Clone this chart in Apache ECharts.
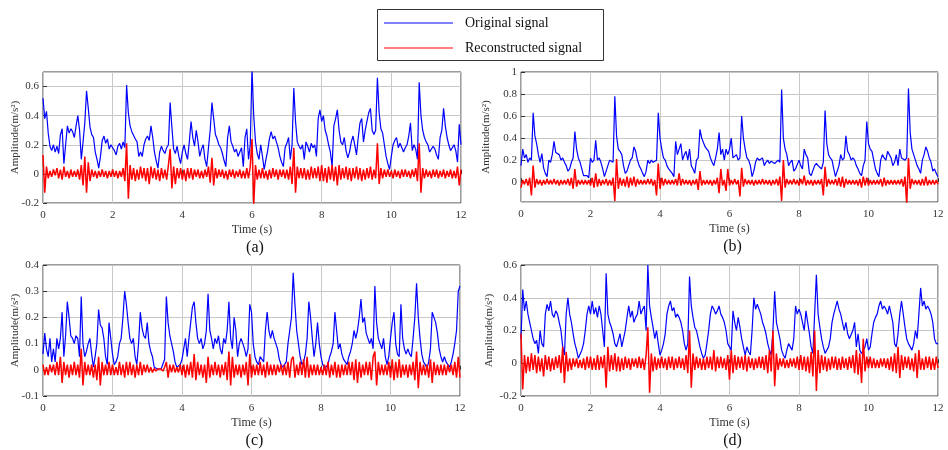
<!DOCTYPE html>
<html>
<head>
<meta charset="utf-8">
<title>Original and reconstructed signals</title>
<script src="https://cdn.jsdelivr.net/npm/echarts@6/dist/echarts.min.js"></script>
<style>
  html, body { margin: 0; padding: 0; background: #fff; }
  #chart { width: 948px; height: 450px; }
</style>
</head>
<body>
<div id="chart"></div>
<script>
// Sampling step of every record below (seconds)
const SAMPLE_STEP = 0.05;
const TIME_TICKS = [0, 2, 4, 6, 8, 10, 12];

// ---- Record (a) ----
const originalA = [
  0.52,0.38,0.43,0.28,0.19,0.16,0.20,0.15,0.19,0.14,0.27,0.31,0.07,0.20,0.33,0.28,0.31,0.29,0.25,0.33,
  0.40,0.30,0.10,0.22,0.35,0.57,0.45,0.32,0.27,0.25,0.15,0.10,0.04,0.12,0.23,0.26,0.21,0.24,0.17,0.20,
  0.18,0.16,0.13,0.19,0.21,0.17,0.22,0.18,0.61,0.42,0.33,0.29,0.30,0.24,0.22,0.12,0.15,0.12,0.20,0.24,
  0.26,0.23,0.33,0.25,0.15,0.09,0.04,0.15,0.19,0.16,0.14,0.18,0.20,0.49,0.32,0.17,0.14,0.19,0.12,0.07,
  0.15,0.20,0.14,0.10,0.22,0.36,0.25,0.19,0.30,0.22,0.12,0.17,0.20,0.10,0.05,0.18,0.30,0.49,0.38,0.27,
  0.24,0.20,0.18,0.14,0.09,0.05,0.25,0.33,0.22,0.19,0.15,0.17,0.12,0.15,0.18,0.05,0.25,0.31,0.10,0.20,
  0.72,0.40,0.22,0.14,0.10,0.20,0.12,0.03,0.10,0.16,0.24,0.29,0.24,0.26,0.22,0.18,0.12,0.08,0.05,0.18,
  0.21,0.25,0.10,0.20,0.59,0.36,0.22,0.19,0.17,0.20,0.10,0.22,0.19,0.15,0.21,0.18,0.20,0.12,0.38,0.44,
  0.36,0.40,0.30,0.26,0.20,0.15,0.05,0.33,0.38,0.44,0.30,0.22,0.20,0.25,0.16,0.11,0.15,0.22,0.26,0.20,
  0.13,0.25,0.35,0.38,0.22,0.30,0.36,0.42,0.45,0.30,0.27,0.30,0.66,0.42,0.31,0.28,0.20,0.12,0.07,0.03,
  0.12,0.20,0.23,0.25,0.18,0.21,0.22,0.15,0.18,0.20,0.26,0.35,0.16,0.20,0.17,0.10,0.63,0.40,0.30,0.25,
  0.22,0.20,0.15,0.14,0.19,0.17,0.13,0.10,0.25,0.30,0.45,0.33,0.25,0.20,0.16,0.15,0.20,0.16,0.08,0.34,
  0.20
];
const reconstructedA = [
  0.13,-0.13,0.05,-0.03,0.02,-0.02,0.03,-0.01,0.04,-0.03,0.03,-0.04,0.05,-0.02,0.02,-0.03,0.03,-0.02,0.02,-0.02,
  0.03,-0.04,0.06,-0.08,0.12,-0.13,0.08,-0.05,0.03,-0.02,0.02,-0.03,0.02,-0.02,0.03,-0.02,0.02,-0.03,0.02,-0.02,
  0.03,-0.02,0.02,-0.03,0.02,-0.02,0.04,-0.05,0.21,-0.17,0.06,-0.04,0.04,-0.05,0.03,-0.04,0.05,-0.03,0.04,-0.05,
  0.04,-0.07,0.05,-0.03,0.04,-0.04,0.03,-0.05,0.04,-0.03,0.03,-0.04,0.06,0.17,-0.10,0.05,-0.07,0.04,-0.03,0.04,
  -0.04,0.03,-0.05,0.04,-0.03,0.04,-0.04,0.03,-0.02,0.03,-0.03,0.02,-0.03,0.03,-0.02,0.05,-0.06,0.11,-0.08,0.04,
  -0.03,0.03,-0.02,0.03,-0.03,0.02,-0.04,0.03,-0.02,0.03,-0.03,0.02,-0.02,0.03,-0.03,0.02,-0.03,0.04,-0.03,0.05,
  0.24,-0.21,0.06,-0.04,0.03,-0.03,0.04,-0.03,0.02,-0.04,0.03,-0.03,0.04,-0.02,0.03,-0.04,0.03,-0.02,0.03,-0.03,
  0.03,-0.04,0.05,-0.07,0.18,-0.13,0.05,-0.03,0.04,-0.03,0.04,-0.04,0.03,-0.04,0.05,-0.03,0.04,-0.03,0.05,-0.05,
  0.06,-0.05,0.04,-0.06,0.05,-0.04,0.06,-0.05,0.05,-0.08,0.06,-0.04,0.04,-0.03,0.05,-0.04,0.04,-0.05,0.04,-0.03,
  0.05,-0.04,0.04,-0.05,0.03,-0.04,0.04,-0.03,0.05,-0.04,0.03,-0.03,0.21,-0.07,0.04,-0.03,0.03,-0.02,0.03,-0.02,
  0.02,-0.03,0.03,-0.02,0.02,-0.03,0.03,-0.02,0.03,-0.02,0.02,-0.03,0.03,-0.02,0.04,-0.05,0.21,-0.13,0.04,-0.03,
  0.03,-0.02,0.02,-0.03,0.03,-0.02,0.03,-0.03,0.02,-0.02,0.03,-0.03,0.02,-0.02,0.03,-0.03,0.02,-0.03,0.05,-0.08,
  0.03
];

// ---- Record (b) ----
const originalB = [
  0.15,0.30,0.22,0.25,0.18,0.22,0.20,0.63,0.42,0.35,0.25,0.18,0.26,0.13,0.08,0.05,0.20,0.18,0.25,0.37,
  0.27,0.26,0.25,0.20,0.22,0.18,0.15,0.10,0.12,0.18,0.22,0.46,0.30,0.22,0.18,0.12,0.06,0.05,0.06,0.04,
  0.22,0.18,0.20,0.38,0.20,0.22,0.18,0.12,0.05,0.10,0.15,0.20,0.20,0.18,0.78,0.42,0.30,0.28,0.25,0.15,
  0.08,0.10,0.10,0.20,0.22,0.32,0.28,0.20,0.15,0.12,0.08,0.05,0.10,0.20,0.17,0.20,0.18,0.18,0.20,0.63,
  0.40,0.30,0.22,0.20,0.15,0.12,0.10,0.08,0.05,0.37,0.25,0.30,0.35,0.20,0.25,0.28,0.20,0.30,0.15,0.12,
  0.08,0.20,0.22,0.48,0.40,0.40,0.32,0.30,0.28,0.22,0.18,0.15,0.22,0.30,0.45,0.25,0.30,0.20,0.30,0.25,
  0.30,0.40,0.22,0.22,0.25,0.20,0.22,0.60,0.40,0.30,0.22,0.20,0.15,0.05,0.10,0.18,0.22,0.20,0.20,0.22,
  0.15,0.18,0.20,0.17,0.19,0.20,0.17,0.18,0.20,0.18,0.84,0.40,0.30,0.25,0.15,0.18,0.20,0.10,0.12,0.12,
  0.20,0.15,0.12,0.30,0.25,0.22,0.08,0.06,0.05,0.15,0.17,0.15,0.15,0.12,0.18,0.65,0.35,0.25,0.22,0.20,
  0.12,0.05,0.10,0.15,0.25,0.20,0.22,0.42,0.28,0.25,0.20,0.22,0.20,0.15,0.12,0.08,0.06,0.15,0.20,0.55,
  0.35,0.30,0.28,0.20,0.12,0.08,0.05,0.20,0.25,0.22,0.20,0.28,0.25,0.22,0.15,0.18,0.25,0.15,0.30,0.22,
  0.22,0.20,0.22,0.85,0.45,0.30,0.25,0.20,0.15,0.12,0.08,0.20,0.25,0.32,0.28,0.22,0.18,0.10,0.12,0.08,
  0.05
];
const reconstructedB = [
  -0.05,0.02,-0.02,0.03,-0.03,0.04,-0.12,0.15,-0.05,0.03,-0.02,0.02,-0.03,0.02,-0.02,0.03,-0.02,0.02,-0.02,0.03,
  -0.02,0.02,-0.03,0.02,-0.02,0.02,-0.02,0.03,-0.03,0.04,-0.06,0.12,-0.04,0.02,-0.02,0.02,-0.02,0.02,-0.02,0.02,
  -0.03,0.04,-0.05,0.08,-0.04,0.03,-0.03,0.02,-0.02,0.03,-0.03,0.02,-0.03,0.04,-0.17,0.21,-0.06,0.04,-0.03,0.03,
  -0.04,0.05,-0.05,0.04,-0.03,0.05,-0.04,0.03,-0.02,0.02,-0.02,0.02,-0.02,0.03,-0.02,0.03,-0.03,0.02,-0.12,0.17,
  -0.06,0.04,-0.03,0.03,-0.02,0.02,-0.02,0.02,-0.02,0.03,-0.03,0.08,-0.03,0.03,-0.02,0.02,-0.02,0.02,-0.03,0.02,
  -0.02,0.03,-0.07,0.10,-0.03,0.02,-0.02,0.02,-0.02,0.02,-0.03,0.02,-0.02,0.04,-0.10,0.12,-0.03,0.02,-0.08,0.12,
  -0.03,0.02,-0.02,0.03,-0.02,0.02,-0.13,0.13,-0.04,0.03,-0.02,0.02,-0.02,0.02,-0.03,0.02,-0.02,0.02,-0.02,0.03,
  -0.02,0.02,-0.02,0.02,-0.03,0.02,-0.02,0.03,-0.03,0.05,-0.17,0.20,-0.05,0.03,-0.02,0.02,-0.02,0.03,-0.02,0.02,
  -0.03,0.03,-0.02,0.06,-0.03,0.02,-0.02,0.02,-0.03,0.02,-0.02,0.02,-0.02,0.03,-0.12,0.14,-0.04,0.03,-0.02,0.02,
  -0.02,0.03,-0.03,0.04,-0.04,0.05,-0.05,0.03,-0.02,0.02,-0.02,0.02,-0.02,0.02,-0.03,0.03,-0.05,0.05,-0.03,0.04,
  -0.03,0.02,-0.02,0.02,-0.02,0.02,-0.02,0.03,-0.04,0.04,-0.03,0.02,-0.02,0.02,-0.02,0.02,-0.02,0.02,-0.02,0.03,
  -0.04,0.05,-0.20,0.22,-0.06,0.03,-0.02,0.02,-0.02,0.02,-0.03,0.03,-0.03,0.05,-0.03,0.02,-0.02,0.02,-0.02,0.02,
  -0.02
];

// ---- Record (c) ----
const originalC = [
  0.06,0.14,0.08,0.05,0.12,0.03,0.08,0.03,0.12,0.08,0.12,0.22,0.05,0.13,0.26,0.20,0.13,0.12,0.10,0.13,
  0.12,0.05,0.28,0.10,0.05,0.07,0.10,0.12,0.06,0.01,0.05,0.10,0.23,0.17,0.16,0.12,0.05,0.02,0.18,0.12,
  0.06,0.02,0.03,0.05,0.10,0.12,0.20,0.30,0.25,0.18,0.12,0.10,0.12,0.05,0.02,0.10,0.22,0.16,0.13,0.12,
  0.18,0.10,0.07,0.05,0.01,0.005,0.003,0.004,0.003,0.01,0.04,0.28,0.18,0.13,0.10,0.07,0.03,0.01,0.005,0.02,
  0.04,0.08,0.12,0.05,0.12,0.18,0.24,0.26,0.18,0.12,0.10,0.12,0.08,0.10,0.15,0.29,0.15,0.12,0.08,0.12,
  0.10,0.13,0.08,0.06,0.12,0.10,0.15,0.26,0.12,0.08,0.20,0.15,0.05,0.10,0.12,0.10,0.08,0.05,0.08,0.25,
  0.22,0.10,0.05,0.03,0.02,0.05,0.04,0.03,0.15,0.22,0.15,0.12,0.15,0.12,0.10,0.08,0.04,0.02,0.01,0.005,
  0.03,0.10,0.15,0.20,0.37,0.25,0.15,0.10,0.05,0.02,0.03,0.06,0.12,0.26,0.20,0.12,0.05,0.10,0.18,0.10,
  0.05,0.02,0.005,0.01,0.02,0.05,0.07,0.10,0.22,0.15,0.08,0.10,0.06,0.04,0.03,0.02,0.05,0.07,0.10,0.15,
  0.12,0.15,0.20,0.27,0.18,0.20,0.14,0.12,0.10,0.12,0.08,0.32,0.18,0.12,0.10,0.08,0.12,0.05,0.02,0.05,
  0.12,0.18,0.22,0.10,0.06,0.05,0.25,0.12,0.08,0.06,0.08,0.06,0.05,0.12,0.20,0.33,0.20,0.12,0.06,0.03,
  0.02,0.005,0.03,0.08,0.22,0.20,0.18,0.14,0.08,0.05,0.03,0.05,0.03,0.02,0.01,0.03,0.06,0.10,0.15,0.30,
  0.32
];
const reconstructedC = [
  0.02,-0.02,0.01,-0.02,0.02,-0.01,0.02,-0.02,0.03,-0.02,0.05,-0.05,0.03,-0.02,0.02,-0.03,0.02,-0.02,0.03,-0.02,
  0.02,-0.03,0.08,-0.06,0.03,-0.02,0.02,-0.02,0.02,-0.03,0.02,-0.04,0.05,-0.06,0.03,-0.02,0.02,-0.02,0.03,-0.02,
  0.02,-0.02,0.01,-0.02,0.03,-0.02,0.02,-0.03,0.03,-0.02,0.03,-0.02,0.02,-0.03,0.02,-0.02,0.03,-0.02,0.02,-0.01,
  0.02,-0.01,0.01,-0.01,0.005,-0.005,0.003,-0.003,0.003,-0.005,0.01,0.03,-0.03,0.02,-0.01,0.02,-0.01,0.01,-0.01,0.02,
  -0.02,0.02,-0.03,0.02,-0.02,0.03,-0.03,0.06,-0.04,0.03,-0.02,0.02,-0.03,0.02,-0.05,0.05,-0.03,0.02,-0.02,0.03,
  -0.02,0.02,-0.03,0.02,-0.02,0.03,-0.04,0.07,-0.06,0.05,-0.03,0.02,-0.02,0.02,-0.03,0.02,-0.02,0.03,-0.06,0.06,
  -0.03,0.02,-0.02,0.02,-0.02,0.03,-0.02,0.02,-0.03,0.03,-0.02,0.02,-0.02,0.02,-0.02,0.02,-0.01,0.02,-0.02,0.02,
  -0.02,0.03,-0.03,0.04,0.05,-0.03,0.02,-0.02,0.03,-0.02,0.04,-0.03,0.05,-0.03,0.02,-0.02,0.02,-0.02,0.02,-0.02,
  0.01,-0.02,0.02,-0.02,0.03,-0.03,0.02,-0.02,0.03,-0.03,0.02,-0.03,0.02,-0.02,0.02,-0.02,0.03,-0.02,0.03,-0.04,
  0.04,-0.05,0.03,-0.03,0.02,-0.02,0.03,-0.02,0.03,-0.04,0.05,0.07,-0.06,0.03,-0.02,0.02,-0.02,0.02,-0.02,0.03,
  -0.03,0.04,-0.04,0.03,-0.03,0.04,-0.03,0.02,-0.02,0.02,-0.03,0.02,-0.02,0.03,-0.04,0.07,-0.07,0.03,-0.02,0.02,
  -0.02,0.02,-0.03,0.04,-0.05,0.03,-0.02,0.02,-0.02,0.02,-0.02,0.02,-0.02,0.02,-0.01,0.02,-0.02,0.03,-0.03,0.05,
  -0.03
];

// ---- Record (d) ----
const originalD = [
  0.15,0.45,0.32,0.38,0.30,0.25,0.20,0.15,0.12,0.14,0.06,0.20,0.12,0.10,0.30,0.36,0.32,0.38,0.30,0.28,
  0.32,0.30,0.25,0.20,0.10,0.05,0.30,0.40,0.30,0.25,0.18,0.12,0.08,0.03,0.02,0.08,0.12,0.20,0.30,0.35,
  0.30,0.38,0.30,0.34,0.28,0.35,0.30,0.20,0.10,0.55,0.30,0.25,0.22,0.18,0.12,0.10,0.14,0.18,0.10,0.15,
  0.20,0.28,0.35,0.28,0.32,0.25,0.28,0.30,0.38,0.30,0.33,0.35,0.20,0.60,0.35,0.28,0.22,0.15,0.20,0.12,
  0.05,0.08,0.12,0.18,0.30,0.35,0.38,0.32,0.34,0.28,0.30,0.28,0.25,0.20,0.12,0.08,0.12,0.53,0.35,0.28,
  0.22,0.20,0.15,0.10,0.06,0.03,0.05,0.12,0.20,0.30,0.35,0.33,0.30,0.32,0.35,0.30,0.28,0.25,0.20,0.12,
  0.10,0.08,0.32,0.25,0.20,0.28,0.22,0.15,0.10,0.05,0.10,0.07,0.05,0.20,0.40,0.33,0.36,0.35,0.30,0.25,
  0.22,0.18,0.12,0.08,0.05,0.20,0.44,0.25,0.20,0.15,0.08,0.05,0.03,0.08,0.12,0.10,0.08,0.15,0.35,0.30,
  0.33,0.30,0.25,0.20,0.32,0.25,0.18,0.10,0.06,0.05,0.54,0.30,0.22,0.15,0.10,0.06,0.05,0.10,0.15,0.25,
  0.30,0.34,0.38,0.33,0.30,0.25,0.20,0.25,0.18,0.15,0.16,0.20,0.25,0.10,0.18,0.08,0.06,0.05,0.10,0.15,
  0.08,0.10,0.18,0.25,0.28,0.30,0.35,0.38,0.33,0.35,0.33,0.30,0.35,0.30,0.25,0.12,0.10,0.18,0.30,0.38,
  0.30,0.22,0.15,0.12,0.10,0.08,0.12,0.20,0.15,0.30,0.46,0.35,0.38,0.33,0.35,0.33,0.30,0.25,0.15,0.12,
  0.12
];
const reconstructedD = [
  0.18,-0.16,0.05,-0.06,0.04,-0.05,0.06,-0.04,0.05,-0.06,0.04,-0.05,0.03,-0.08,0.05,-0.04,0.04,-0.05,0.03,-0.04,
  0.04,-0.03,0.05,-0.06,0.10,-0.12,0.07,-0.05,0.03,-0.04,0.03,-0.02,0.03,-0.03,0.02,-0.03,0.03,-0.04,0.04,-0.03,
  0.04,-0.04,0.03,-0.04,0.05,-0.04,0.04,-0.03,0.05,-0.15,0.10,-0.05,0.05,-0.04,0.06,-0.05,0.04,-0.05,0.03,-0.04,
  0.04,-0.03,0.03,-0.04,0.03,-0.02,0.03,-0.03,0.04,-0.03,0.03,-0.04,0.05,0.22,-0.18,0.06,-0.05,0.04,-0.04,0.03,
  -0.03,0.04,-0.03,0.03,-0.04,0.04,-0.03,0.04,-0.04,0.03,-0.03,0.04,-0.03,0.03,-0.04,0.05,-0.06,0.20,-0.15,0.06,
  -0.04,0.04,-0.03,0.03,-0.04,0.03,-0.04,0.04,-0.03,0.04,-0.04,0.08,-0.05,0.04,-0.03,0.04,-0.03,0.03,-0.04,0.05,
  -0.10,0.08,-0.06,0.05,-0.04,0.04,-0.03,0.04,-0.04,0.05,-0.05,0.04,-0.03,0.03,-0.04,0.03,-0.03,0.04,-0.03,0.04,
  -0.04,0.05,-0.06,0.08,-0.05,0.20,-0.14,0.06,-0.04,0.03,-0.02,0.03,-0.03,0.02,-0.03,0.03,-0.02,0.03,-0.03,0.04,
  -0.04,0.05,-0.04,0.04,-0.05,0.04,-0.06,0.07,-0.08,0.20,-0.17,0.08,-0.06,0.05,-0.04,0.04,-0.05,0.03,-0.04,0.04,
  -0.03,0.04,-0.04,0.03,-0.04,0.04,-0.03,0.03,-0.04,0.04,-0.03,0.05,-0.06,0.08,-0.07,0.06,-0.12,0.15,-0.05,0.04,
  -0.03,0.04,-0.03,0.03,-0.03,0.02,-0.03,0.03,-0.02,0.03,-0.03,0.03,-0.04,0.04,-0.05,0.06,-0.06,0.10,-0.09,0.05,
  -0.04,0.04,-0.03,0.04,-0.04,0.03,-0.05,0.06,-0.09,0.08,-0.04,0.03,-0.04,0.04,-0.03,0.04,-0.04,0.03,-0.04,0.04,
  -0.03
];

const LEGEND_NAMES = ['Original signal', 'Reconstructed signal'];
const SERIES_COLORS = ['#0000ff', '#ff0000'];
const PANEL_LABELS = ['(a)', '(b)', '(c)', '(d)'];

// Panel layout and y ranges
const panels = [
  { label: PANEL_LABELS[0], orig: originalA, rec: reconstructedA, left: 43,  top: 72,  width: 418, height: 131, ymin: -0.2, ymax: 0.7, step: 0.2, nameGap: 22 },
  { label: PANEL_LABELS[1], orig: originalB, rec: reconstructedB, left: 521, top: 72,  width: 417, height: 130, ymin: -0.18, ymax: 1, step: 0.2, nameGap: 29 },
  { label: PANEL_LABELS[2], orig: originalC, rec: reconstructedC, left: 43,  top: 265, width: 417, height: 131, ymin: -0.1, ymax: 0.4, step: 0.1, nameGap: 22 },
  { label: PANEL_LABELS[3], orig: originalD, rec: reconstructedD, left: 521, top: 265, width: 417, height: 131, ymin: -0.2, ymax: 0.6, step: 0.2, nameGap: 26 }
];

function toPairs(values) {
  return values.map((v, i) => [Math.round(i * SAMPLE_STEP * 100) / 100, v]);
}

const FONT = '"Liberation Serif", "Times New Roman", serif';
const AXIS_COLOR = '#333333';
const GRID_COLOR = '#c8c8c8';

const grids = [], xAxes = [], yAxes = [], series = [], graphics = [];

panels.forEach((p, k) => {
  grids.push({
    left: p.left, top: p.top, width: p.width, height: p.height,
    show: true, borderColor: '#3a3a3a', borderWidth: 1, backgroundColor: '#fff',
    containLabel: false
  });
  xAxes.push({
    gridIndex: k, type: 'value',
    min: TIME_TICKS[0], max: TIME_TICKS[TIME_TICKS.length - 1], interval: 2,
    name: 'Time (s)', nameLocation: 'middle', nameGap: 21, nameMoveOverlap: false,
    nameTextStyle: { fontFamily: FONT, fontSize: 12, color: AXIS_COLOR },
    axisLine: { show: false },
    axisTick: { show: true, inside: true, length: 4, lineStyle: { color: AXIS_COLOR } },
    axisLabel: { fontFamily: FONT, fontSize: 11, color: AXIS_COLOR, margin: 7 },
    splitLine: { show: true, lineStyle: { color: GRID_COLOR, width: 1 } }
  });
  const yAxis = {
    gridIndex: k, type: 'value', min: p.ymin, max: p.ymax,
    name: 'Amplitude(m/s\u00B2)', nameLocation: 'middle', nameGap: p.nameGap, nameRotate: 90,
    nameMoveOverlap: false,
    nameTextStyle: { fontFamily: FONT, fontSize: 11, color: AXIS_COLOR },
    axisLine: { show: false },
    axisTick: { show: true, inside: true, length: 4, lineStyle: { color: AXIS_COLOR } },
    axisLabel: { fontFamily: FONT, fontSize: 11, color: AXIS_COLOR, margin: 4, showMaxLabel: true, showMinLabel: true },
    splitLine: { show: true, lineStyle: { color: GRID_COLOR, width: 1 } }
  };
  // ranges that start on a multiple of the step take a fixed interval
  if (Math.abs(Math.round(p.ymin / p.step) * p.step - p.ymin) < 1e-9) {
    yAxis.interval = p.step;
  } else {
    yAxis.splitNumber = 6;
    yAxis.axisLabel.showMinLabel = false;
  }
  if (Math.abs(Math.round(p.ymax / p.step) * p.step - p.ymax) > 1e-9) {
    yAxis.axisLabel.showMaxLabel = false;
  }
  yAxes.push(yAxis);

  series.push({
    name: LEGEND_NAMES[0], type: 'line', xAxisIndex: k, yAxisIndex: k,
    data: toPairs(p.orig), showSymbol: false, symbol: 'none',
    lineStyle: { color: SERIES_COLORS[0], width: 1.2 }, itemStyle: { color: SERIES_COLORS[0] },
    clip: true, z: 2
  });
  series.push({
    name: LEGEND_NAMES[1], type: 'line', xAxisIndex: k, yAxisIndex: k,
    data: toPairs(p.rec), showSymbol: false, symbol: 'none',
    lineStyle: { color: SERIES_COLORS[1], width: 1.5 }, itemStyle: { color: SERIES_COLORS[1] },
    clip: true, z: 3
  });

  graphics.push({
    type: 'text',
    x: p.left + p.width / 2 + 3,
    y: p.top + p.height + 45,
    style: {
      text: p.label, fontFamily: FONT, fontSize: 16, fill: '#111',
      align: 'center', verticalAlign: 'middle'
    }
  });
});

// Boxed key above the panels: frame, two sample strokes and their names
const KEY_BOX = { x: 377.5, y: 9.5, width: 226, height: 51 };
const KEY_ROWS = [23, 48];
graphics.push({
  type: 'rect', z: 10,
  shape: { x: KEY_BOX.x, y: KEY_BOX.y, width: KEY_BOX.width, height: KEY_BOX.height },
  style: { fill: '#fff', stroke: '#333', lineWidth: 1 }
});
LEGEND_NAMES.forEach((name, i) => {
  graphics.push({
    type: 'line', z: 11,
    shape: { x1: 384, y1: KEY_ROWS[i], x2: 453, y2: KEY_ROWS[i] },
    style: { stroke: SERIES_COLORS[i], lineWidth: 1.2 }
  });
  graphics.push({
    type: 'text', z: 11, x: 465, y: KEY_ROWS[i],
    style: { text: name, fontFamily: FONT, fontSize: 14, fill: '#111', align: 'left', verticalAlign: 'middle' }
  });
});

const chart = echarts.init(document.getElementById('chart'), null, { renderer: 'canvas' });
chart.setOption({
  animation: false,
  backgroundColor: '#fff',
  grid: grids,
  xAxis: xAxes,
  yAxis: yAxes,
  series: series,
  graphic: graphics
});
</script>
</body>
</html>
